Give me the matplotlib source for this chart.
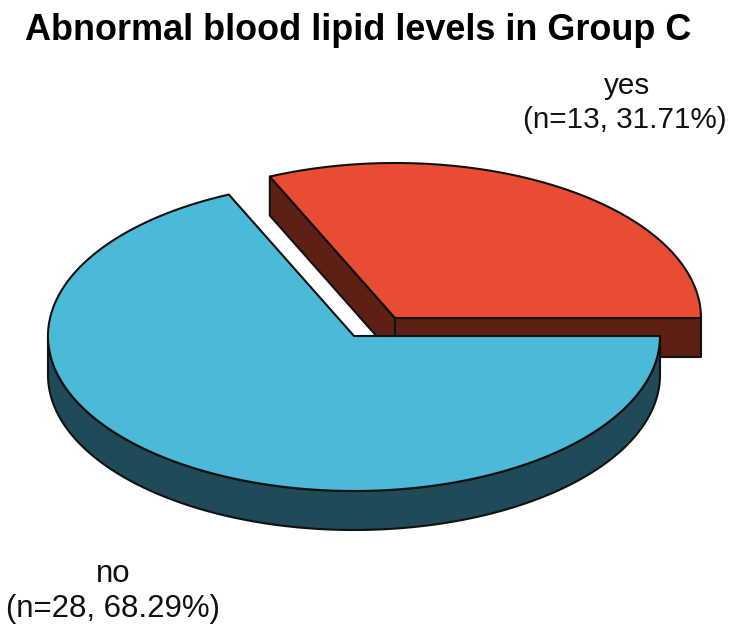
import numpy as np
import matplotlib
matplotlib.use('Agg')
import matplotlib.pyplot as plt
from matplotlib.patches import Polygon

title = 'Abnormal blood lipid levels in Group C'
labels = ['yes', 'no']
counts = [13, 28]
percents = [31.71, 68.29]

plt.rcParams['font.family'] = ['Liberation Sans', 'DejaVu Sans']

RX, RY, DEPTH = 306, 155, 39
CENTERS = [(395, 318), (354, 336)]
TOPS = ['#E84C33', '#4BB9D8']
SIDES = ['#5E1F14', '#1F4A57']


def arc(cx, cy, a0, a1, n=200):
    t = np.radians(np.linspace(a0, a1, n))
    return np.column_stack([cx + RX * np.cos(t), cy - RY * np.sin(t)])


def add(ax, pts, color, z):
    ax.add_patch(Polygon(pts, closed=True, facecolor=color, edgecolor='#111111',
                         linewidth=1.5, joinstyle='round', zorder=z))


def draw_slice(ax, center, a0, a1, top, side, z, walls=False):
    cx, cy = center
    # outer wall, only the front half of the ellipse shows
    lo, hi = max(a0, 180), min(a1, 360)
    if hi > lo:
        edge = arc(cx, cy, lo, hi)
        add(ax, np.vstack([edge, edge[::-1] + [0, DEPTH]]), side, z)
    # cut walls
    if walls:
        for a in (a0, a1):
            p = arc(cx, cy, a, a, 1)[0]
            add(ax, [p, (cx, cy), (cx, cy + DEPTH), p + [0, DEPTH]], side, z)
    add(ax, np.vstack([[(cx, cy)], arc(cx, cy, a0, a1)]), top, z + 1)


fig = plt.figure(figsize=(7.5, 6.31), dpi=100)
ax = fig.add_axes([0, 0, 1, 1])
ax.set_xlim(0, 750)
ax.set_ylim(631, 0)
ax.axis('off')

split = 360 * counts[0] / sum(counts)
draw_slice(ax, CENTERS[0], 0, split, TOPS[0], SIDES[0], 1, walls=True)
draw_slice(ax, CENTERS[1], split, 360, TOPS[1], SIDES[1], 4)

ax.text(358, 30, title, ha='center', va='center', fontsize=25.9, fontweight='bold', color='black')
ax.text(627, 86, labels[0], ha='center', va='center', fontsize=21.3, color='#111111')
ax.text(625, 120, f'(n={counts[0]}, {percents[0]:.2f}%)', ha='center', va='center', fontsize=21.3, color='#111111')
ax.text(113, 574, labels[1], ha='center', va='center', fontsize=22.4, color='#111111')
ax.text(113, 609, f'(n={counts[1]}, {percents[1]:.2f}%)', ha='center', va='center', fontsize=22.4, color='#111111')

fig.savefig('out.png', dpi=100)
